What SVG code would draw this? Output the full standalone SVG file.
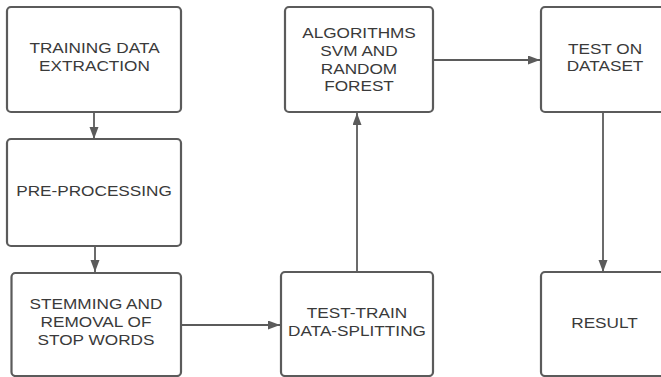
<svg xmlns="http://www.w3.org/2000/svg" width="661" height="377" viewBox="0 0 661 377">
<style>
.box{fill:#fff;stroke:#5b5b5b;stroke-width:2.2}
.lbl{font-family:"Liberation Sans",Arial,sans-serif;font-size:15.5px;fill:#3a3a3a;text-anchor:middle}
.con{fill:none;stroke:#5b5b5b;stroke-width:1.8}
</style>
<defs>
<marker id="ah" markerUnits="userSpaceOnUse" markerWidth="13" markerHeight="10" refX="12" refY="4.5" orient="auto">
<path d="M0,0 L12,4.5 L0,9 z" fill="#5b5b5b"/>
</marker>
</defs>
<rect width="661" height="377" fill="#fff"/>
<g id="connectors">
<line class="con" x1="94" y1="113" x2="94" y2="139" marker-end="url(#ah)"/>
<line class="con" x1="95" y1="247" x2="95" y2="272" marker-end="url(#ah)"/>
<line class="con" x1="181" y1="325" x2="280" y2="325" marker-end="url(#ah)"/>
<line class="con" x1="357" y1="272" x2="357" y2="113" marker-end="url(#ah)"/>
<line class="con" x1="433" y1="60" x2="540" y2="60" marker-end="url(#ah)"/>
<line class="con" x1="603" y1="113" x2="603" y2="272" marker-end="url(#ah)"/>
</g>
<g id="training">
<rect class="box" x="7" y="7" width="174" height="105" rx="4"/>
<text class="lbl" transform="translate(94.5,0) scale(1.11,1)"><tspan x="0" y="53">TRAINING DATA</tspan><tspan x="0" y="71">EXTRACTION</tspan></text>
</g>
<g id="preprocessing">
<rect class="box" x="7" y="139" width="174" height="107" rx="4"/>
<text class="lbl" transform="translate(94,0) scale(1.11,1)" x="0" y="196">PRE-PROCESSING</text>
</g>
<g id="stemming">
<rect class="box" x="11.5" y="273" width="169.5" height="103" rx="4"/>
<text class="lbl" transform="translate(96,0) scale(1.11,1)"><tspan x="0" y="309">STEMMING AND</tspan><tspan x="0" y="327">REMOVAL OF</tspan><tspan x="0" y="345">STOP WORDS</tspan></text>
</g>
<g id="testtrain">
<rect class="box" x="281" y="272" width="152" height="104" rx="4"/>
<text class="lbl" transform="translate(357,0) scale(1.11,1)"><tspan x="0" y="318">TEST-TRAIN</tspan><tspan x="0" y="336">DATA-SPLITTING</tspan></text>
</g>
<g id="algorithms">
<rect class="box" x="285" y="7" width="148" height="105" rx="4"/>
<text class="lbl" transform="translate(359,0) scale(1.11,1)"><tspan x="0" y="38">ALGORITHMS</tspan><tspan x="0" y="56">SVM AND</tspan><tspan x="0" y="74">RANDOM</tspan><tspan x="0" y="91">FOREST</tspan></text>
</g>
<g id="testdataset">
<rect class="box" x="541" y="7" width="130" height="105" rx="4"/>
<text class="lbl" transform="translate(605,0) scale(1.11,1)"><tspan x="0" y="54">TEST ON</tspan><tspan x="0" y="71.5">DATASET</tspan></text>
</g>
<g id="result">
<rect class="box" x="541" y="272" width="130" height="104" rx="4"/>
<text class="lbl" transform="translate(604.5,0) scale(1.11,1)" x="0" y="328">RESULT</text>
</g>
</svg>
